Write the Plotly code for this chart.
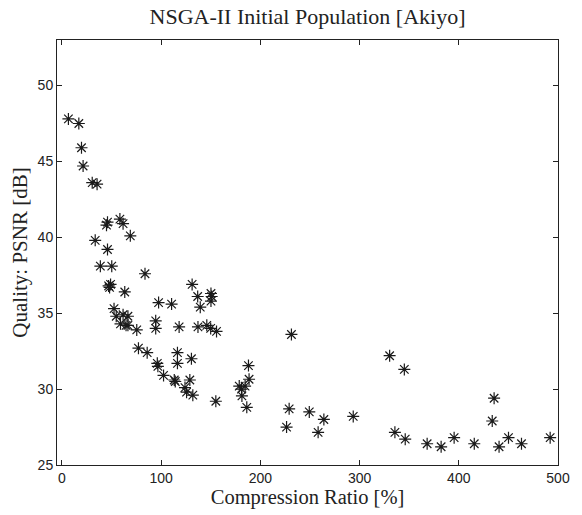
import plotly.graph_objects as go

compression_ratio = [
    6.5, 17, 19.7, 21.3, 30.5, 35.4,
    45.9, 44.9, 58.4, 61.6, 68.9, 33.5, 45.9, 38.7, 50.2, 83.7,
    47, 49, 48, 63.3, 131.2, 136.8, 139.4, 150.2, 150.9, 150.2,
    97.4, 110.5, 52.5,
    54.7, 61.6, 66.5, 59, 64.6, 66.5, 75.4, 94.5, 94.5, 118.1,
    137.1, 146, 149.9, 155.8, 77.1, 85.9, 116.4, 116.4, 130.5,
    96.1, 96.7, 102.4, 113.2, 114.2, 128.9, 124, 125.6, 131.9, 155.1,
    231.3, 188, 188.6, 178.7, 184.6, 181, 181.4, 186.3, 229, 249.3,
    264, 293.6, 226.4, 258.2,
    330.3, 345.1, 335.6, 346, 368.1, 382.2, 395.3, 415.6, 435.6,
    433.7, 440.6, 450.1, 463.2, 492.1,
]
psnr = [
    47.8, 47.5, 45.9, 44.7, 43.6, 43.5,
    41.0, 40.8, 41.2, 40.9, 40.1, 39.8, 39.2, 38.1, 38.1, 37.6,
    36.8, 36.9, 36.7, 36.4, 36.9, 36.1, 35.4, 36.3, 36.1, 35.8,
    35.7, 35.6, 35.3,
    34.8, 34.9, 34.8, 34.3, 34.2, 34.2, 33.9, 34.5, 34.0, 34.1,
    34.1, 34.2, 34.0, 33.8, 32.7, 32.4, 32.4, 31.7, 32.0,
    31.7, 31.5, 30.9, 30.6, 30.5, 30.6, 30.1, 29.8, 29.6, 29.2,
    33.6, 31.55, 30.65, 30.2, 30.2, 30.0, 29.55, 28.8, 28.7, 28.5,
    28.0, 28.2, 27.5, 27.15,
    32.2, 31.3, 27.15, 26.7, 26.4, 26.2, 26.8, 26.4, 29.4,
    27.9, 26.2, 26.8, 26.4, 26.8,
]

x_ticks = [0, 100, 200, 300, 400, 500]
y_ticks = [25, 30, 35, 40, 45, 50]

fig = go.Figure(go.Scatter(
    x=compression_ratio, y=psnr, mode="markers",
    marker=dict(symbol="asterisk-open", size=10, color="#1a1a1a",
                line=dict(color="#1a1a1a", width=1.2)),
))

serif = "Liberation Serif, DejaVu Serif, serif"
sans = "Liberation Sans, Arial, sans-serif"

axis_common = dict(
    showgrid=False, zeroline=False, showline=True, linecolor="#222222",
    linewidth=1, mirror="ticks", ticks="inside", ticklen=5,
    tickcolor="#222222", tickfont=dict(family=sans, size=14, color="#222222"),
)

fig.update_layout(
    width=582, height=515,
    margin=dict(l=57, r=13, t=40, b=50),
    paper_bgcolor="white", plot_bgcolor="white",
    showlegend=False,
    title=dict(text="NSGA-II Initial Population [Akiyo]", xref="paper", x=0.5,
               xanchor="center", y=0.968, yanchor="middle",
               font=dict(family=serif, size=22, color="#222222")),
    xaxis=dict(range=[-5, 500], tickvals=x_ticks,
               title=dict(text="Compression Ratio [%]", standoff=3,
                          font=dict(family=serif, size=20.5, color="#222222")),
               **axis_common),
    yaxis=dict(range=[25, 53], tickvals=y_ticks,
               title=dict(text="Quality: PSNR [dB]", standoff=4,
                          font=dict(family=serif, size=21, color="#222222")),
               **axis_common),
)

fig.write_html("out.html")
